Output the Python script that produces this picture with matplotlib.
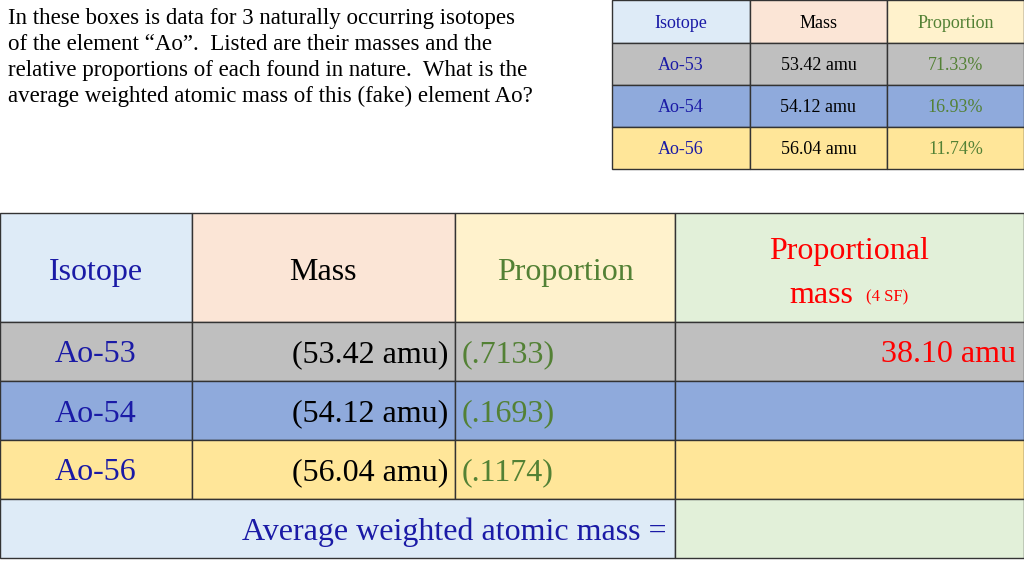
import matplotlib
matplotlib.use("Agg")
import matplotlib.pyplot as plt
from matplotlib.patches import Rectangle

isotopes = ["Ao-53", "Ao-54", "Ao-56"]
masses = [53.42, 54.12, 56.04]
proportions = [71.33, 16.93, 11.74]
prop_masses = ["38.10 amu", "", ""]
intro = ("In these boxes is data for 3 naturally occurring isotopes\n"
         "of the element \u201cAo\u201d.  Listed are their masses and the\n"
         "relative proportions of each found in nature.  What is the\n"
         "average weighted atomic mass of this (fake) element Ao?")

FONT = "Liberation Serif"
BLUE_T = "#1a1aa6"; GREEN_T = "#538135"; RED_T = "#ff0000"
H_BLUE = "#deebf7"; H_PEACH = "#fbe5d6"; H_YEL = "#fff2cc"; H_GRN = "#e2f0d9"
ROWC = ["#bfbfbf", "#8faadc", "#ffe699"]

fig = plt.figure(figsize=(10.24, 5.76), dpi=100)
ax = fig.add_axes([0, 0, 1, 1])
ax.set_xlim(0, 1024); ax.set_ylim(576, 0); ax.axis("off")

def cell(x0, x1, y0, y1, fc):
    ax.add_patch(Rectangle((x0, y0), x1 - x0, y1 - y0, facecolor=fc, edgecolor="#333333", lw=1))

def txt(x, y, s, size, color, ha="center"):
    ax.text(x, y, s, fontsize=size, color=color, ha=ha, va="center_baseline", family=FONT)

ax.text(8, 8, intro, fontsize=16.5, family=FONT, va="top", ha="left", linespacing=1.3)

# small table
xs = [612, 750, 887, 1024]
ys = [0, 43, 85, 127, 169]
hdr = [("Isotope", H_BLUE, BLUE_T), ("Mass", H_PEACH, "black"), ("Proportion", H_YEL, GREEN_T)]
for j, (s, fc, tc) in enumerate(hdr):
    cell(xs[j], xs[j+1], ys[0], ys[1], fc)
    txt((xs[j]+xs[j+1])/2, (ys[0]+ys[1])/2, s, 13, tc)
for i in range(3):
    vals = [(isotopes[i], BLUE_T), (f"{masses[i]:.2f} amu", "black"), (f"{proportions[i]:.2f}%", GREEN_T)]
    for j, (s, tc) in enumerate(vals):
        cell(xs[j], xs[j+1], ys[i+1], ys[i+2], ROWC[i])
        txt((xs[j]+xs[j+1])/2, (ys[i+1]+ys[i+2])/2, s, 13, tc)

# big table
X = [0, 192, 455, 675, 1024]
Y = [213, 322, 381, 440, 499, 558]
for j, fc in enumerate([H_BLUE, H_PEACH, H_YEL, H_GRN]):
    cell(X[j], X[j+1], Y[0], Y[1], fc)
txt(96, 269, "Isotope", 23, BLUE_T)
txt(323, 269, "Mass", 23, "black")
txt(565, 269, "Proportion", 23, GREEN_T)
txt(849, 248, "Proportional", 23, RED_T)
ax.text(853, 292, "mass", fontsize=23, color=RED_T, family=FONT, ha="right", va="center_baseline")
ax.text(866, 295, "(4 SF)", fontsize=12, color=RED_T, family=FONT, ha="left", va="center_baseline")
for i in range(3):
    y0, y1 = Y[i+1], Y[i+2]; yc = (y0 + y1) / 2
    for j in range(4):
        cell(X[j], X[j+1], y0, y1, ROWC[i])
    txt(96, yc, isotopes[i], 23, BLUE_T)
    txt(448, yc, f"({masses[i]:.2f} amu)", 23, "black", ha="right")
    txt(462, yc, f"(.{int(round(proportions[i]*100)):04d})", 23, GREEN_T, ha="left")
    if prop_masses[i]:
        txt(1016, yc, prop_masses[i], 23, RED_T, ha="right")
cell(0, 675, Y[4], Y[5], H_BLUE)
cell(675, 1024, Y[4], Y[5], H_GRN)
txt(667, 529, "Average weighted atomic mass =", 23, BLUE_T, ha="right")

fig.savefig("out.png", dpi=100)
